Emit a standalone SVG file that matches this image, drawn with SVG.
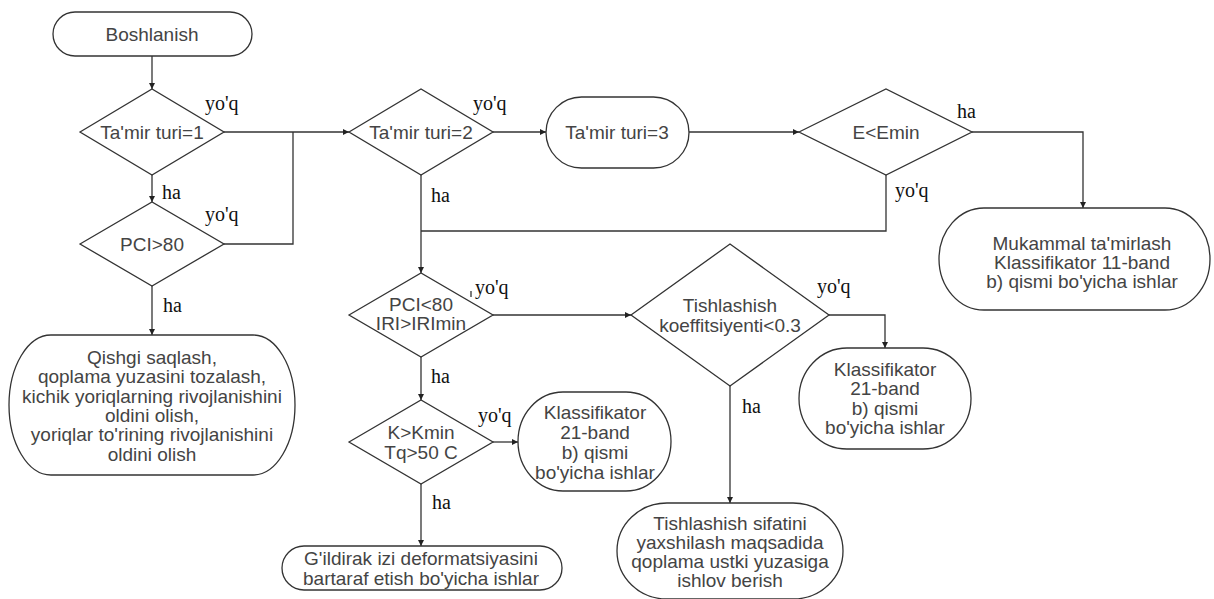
<svg xmlns="http://www.w3.org/2000/svg" width="1214" height="599" viewBox="0 0 1214 599">
  <style>
    .shape { fill: #fff; stroke: #333; stroke-width: 1.3; }
    .t { font-family: "Liberation Sans", Arial, sans-serif; font-size: 19px; fill: #444; text-anchor: middle; }
    .lbl { font-family: "Liberation Serif", "Times New Roman", serif; font-size: 20px; fill: #111; }
    .wire { fill: none; stroke: #333; stroke-width: 1.3; }
    .arrow { marker-end: url(#head); }
  </style>
  <defs>
    <marker id="head" viewBox="0 0 10 10" refX="10" refY="5" markerWidth="8" markerHeight="6" markerUnits="userSpaceOnUse" orient="auto">
      <path d="M0,0 L10,5 L0,10 z" fill="#222"/>
    </marker>
  </defs>

  <rect width="1214" height="599" fill="#fff"/>

  <!-- connectors -->
  <g id="connectors">
    <path class="wire arrow" d="M152,56 V89"/>
    <path class="wire arrow" d="M152,175 V202"/>
    <path class="wire arrow" d="M152,286 V335"/>
    <path class="wire arrow" d="M224,132 H349"/>
    <path class="wire" d="M224,244 H293 V132"/>
    <path class="wire arrow" d="M493,132 H546"/>
    <path class="wire arrow" d="M689,132 H799"/>
    <path class="wire arrow" d="M972,132 H1083 V208"/>
    <path class="wire" d="M886,175 V231 H421"/>
    <path class="wire arrow" d="M421,175 V273"/>
    <path class="wire arrow" d="M493,315 H631"/>
    <path class="wire arrow" d="M421,357 V400"/>
    <path class="wire arrow" d="M493,442 H518"/>
    <path class="wire arrow" d="M421,484 V546"/>
    <path class="wire arrow" d="M829,315 H885 V348"/>
    <path class="wire arrow" d="M730,386 V503"/>
    <path class="wire" d="M471,291 V297"/>
  </g>

  <!-- edge labels -->
  <g id="edge-labels">
    <text class="lbl" x="205" y="110">yo'q</text>
    <text class="lbl" x="162" y="199">ha</text>
    <text class="lbl" x="205" y="221">yo'q</text>
    <text class="lbl" x="163" y="312">ha</text>
    <text class="lbl" x="473" y="110">yo'q</text>
    <text class="lbl" x="431" y="202">ha</text>
    <text class="lbl" x="957" y="118">ha</text>
    <text class="lbl" x="895" y="197">yo'q</text>
    <text class="lbl" x="475" y="294">yo'q</text>
    <text class="lbl" x="431" y="383">ha</text>
    <text class="lbl" x="478" y="422">yo'q</text>
    <text class="lbl" x="432" y="509">ha</text>
    <text class="lbl" x="817" y="293">yo'q</text>
    <text class="lbl" x="742" y="413">ha</text>
  </g>

  <g id="start">
    <rect class="shape" x="53" y="12" width="199" height="44" rx="22" ry="22"/>
    <text class="t" x="152" y="41">Boshlanish</text>
  </g>

  <g id="type1">
    <polygon class="shape" points="80,132 152,89 224,132 152,175"/>
    <text class="t" x="152" y="139">Ta'mir turi=1</text>
  </g>

  <g id="pci80">
    <polygon class="shape" points="80,244 152,202 224,244 152,286"/>
    <text class="t" x="152" y="251">PCI&gt;80</text>
  </g>

  <g id="winter-care">
    <rect class="shape" x="9" y="335" width="286" height="140" rx="42" ry="70"/>
    <text class="t" x="152" y="364">Qishgi saqlash,</text>
    <text class="t" x="152" y="383">qoplama yuzasini tozalash,</text>
    <text class="t" x="152" y="403">kichik yoriqlarning rivojlanishini</text>
    <text class="t" x="152" y="422">oldini olish,</text>
    <text class="t" x="152" y="441">yoriqlar to'rining rivojlanishini</text>
    <text class="t" x="152" y="461">oldini olish</text>
  </g>

  <g id="type2">
    <polygon class="shape" points="349,132 421,89 493,132 421,175"/>
    <text class="t" x="421" y="139">Ta'mir turi=2</text>
  </g>

  <g id="type3">
    <rect class="shape" x="546" y="97" width="143" height="71" rx="35.5" ry="35.5"/>
    <text class="t" x="617" y="139">Ta'mir turi=3</text>
  </g>

  <g id="emin">
    <polygon class="shape" points="799,132 886,89 972,132 886,175"/>
    <text class="t" x="886" y="139">E&lt;Emin</text>
  </g>

  <g id="full-repair">
    <rect class="shape" x="939" y="208" width="271" height="102" rx="45" ry="51"/>
    <text class="t" x="1082" y="250">Mukammal ta'mirlash</text>
    <text class="t" x="1082" y="269">Klassifikator 11-band</text>
    <text class="t" x="1082" y="288">b) qismi bo'yicha ishlar</text>
  </g>

  <g id="pci-iri">
    <polygon class="shape" points="349,315 421,273 493,315 421,357"/>
    <text class="t" x="421" y="311">PCI&lt;80</text>
    <text class="t" x="421" y="330">IRI&gt;IRImin</text>
  </g>

  <g id="k-kmin">
    <polygon class="shape" points="349,442 421,400 493,442 421,484"/>
    <text class="t" x="421" y="439">K&gt;Kmin</text>
    <text class="t" x="421" y="459">Tq&gt;50 C</text>
  </g>

  <g id="class21-a">
    <rect class="shape" x="518" y="392" width="153" height="99" rx="45" ry="49.5"/>
    <text class="t" x="595" y="419">Klassifikator</text>
    <text class="t" x="595" y="439">21-band</text>
    <text class="t" x="595" y="459">b) qismi</text>
    <text class="t" x="595" y="479">bo'yicha ishlar</text>
  </g>

  <g id="rutting">
    <rect class="shape" x="282" y="546" width="280" height="44" rx="22" ry="22"/>
    <text class="t" x="421" y="565">G'ildirak izi deformatsiyasini</text>
    <text class="t" x="421" y="585">bartaraf etish bo'yicha ishlar</text>
  </g>

  <g id="friction">
    <polygon class="shape" points="631,315 730,244 829,315 730,386"/>
    <text class="t" x="730" y="312">Tishlashish</text>
    <text class="t" x="730" y="332">koeffitsiyenti&lt;0.3</text>
  </g>

  <g id="class21-b">
    <rect class="shape" x="799" y="348" width="172" height="101" rx="48" ry="50.5"/>
    <text class="t" x="885" y="376">Klassifikator</text>
    <text class="t" x="885" y="395">21-band</text>
    <text class="t" x="885" y="415">b) qismi</text>
    <text class="t" x="885" y="434">bo'yicha ishlar</text>
  </g>

  <g id="surface-treatment">
    <rect class="shape" x="617" y="503" width="226" height="96" rx="50" ry="48"/>
    <text class="t" x="730" y="530">Tishlashish sifatini</text>
    <text class="t" x="730" y="549">yaxshilash maqsadida</text>
    <text class="t" x="730" y="568">qoplama ustki yuzasiga</text>
    <text class="t" x="730" y="587">ishlov berish</text>
  </g>
</svg>
